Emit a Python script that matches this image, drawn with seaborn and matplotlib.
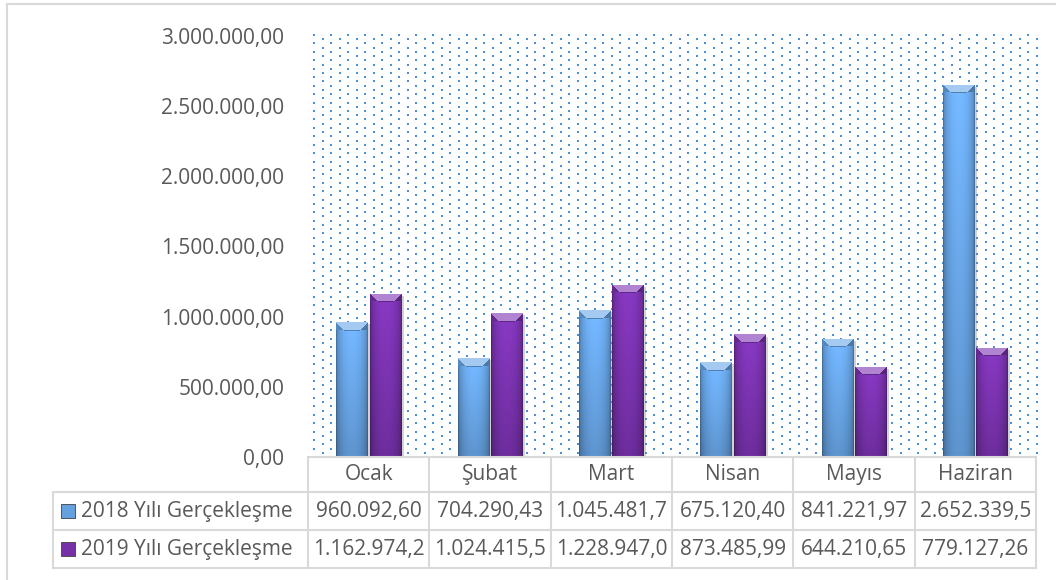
#!/usr/bin/env python3

import numpy as np
import pandas as pd
import seaborn as sns
import matplotlib.pyplot as plt
import matplotlib.patheffects as pe
from matplotlib.colors import to_rgb
from matplotlib.lines import Line2D
from matplotlib.patches import Rectangle
from matplotlib.transforms import blended_transform_factory

months = ["Ocak", "Şubat", "Mart", "Nisan", "Mayıs", "Haziran"]
series = ["2018 Yılı Gerçekleşme", "2019 Yılı Gerçekleşme"]
values_2018 = [960092.60, 704290.43, 1045481.70, 675120.40, 841221.97, 2652339.50]
values_2019 = [1162974.20, 1024415.50, 1228947.00, 873485.99, 644210.65, 779127.26]
yticks = [0, 500000, 1000000, 1500000, 2000000, 2500000, 3000000]

colors = ["#65a0df", "#7631a9"]
text_color = "#595959"
line_color = "#d9d9d9"

# figure size in pixels and plot area box (pixels from top-left)
W, H = 1056, 580
AX_L, AX_R, AX_T, AX_B = 308, 1036, 36, 457


def tr_fmt(v):
    """Turkish number format: 1.234.567,89"""
    s = f"{v:,.2f}"
    return s.replace(",", "#").replace(".", ",").replace("#", ".")


def cell_text(v):
    # excel cuts the long numbers to the column width
    return tr_fmt(v)[:11]


def shade_bar(ax, patch, base, px_per_unit):
    """
    Paint a bevelled gradient over a bar, clipped to the bar itself
    """
    x, y = patch.get_x(), patch.get_y()
    w, h = patch.get_width(), patch.get_height()
    rows = max(int(round(h * px_per_unit)), 2)
    cols = max(int(round(w * (AX_R - AX_L) / 6)), 4)
    t = np.linspace(0, 1, cols)
    horiz = 0.68 + 0.40 * np.sin(np.pi * t) ** 0.45
    vert = np.linspace(1.08, 0.86, rows)
    rgb = np.array(to_rgb(base))
    img = rgb[None, None, :] * horiz[None, :, None] * vert[:, None, None]
    bevel = min(8, rows)
    for r in range(bevel):
        img[r, r:cols - r] = rgb * 1.05 * 0.6 + 0.4
        img[r, :r] = rgb * 0.85
        img[r, cols - r:] = rgb * 0.75
    if rows > bevel:
        img[bevel, bevel:cols - bevel] = rgb * 0.8
    img = np.clip(img, 0, 1)
    im = ax.imshow(img, extent=(x, x + w, y, y + h), origin="upper",
                   aspect="auto", interpolation="nearest", zorder=4)
    im.set_clip_path(patch)


def main():
    sns.set_theme(style="white")
    plt.rcParams["font.family"] = ["Open Sans", "DejaVu Sans"]
    fs = 15

    df = pd.DataFrame({
        "Ay": months * 2,
        "Seri": [series[0]] * len(months) + [series[1]] * len(months),
        "Tutar": values_2018 + values_2019,
    })

    fig = plt.figure(figsize=(W / 100, H / 100), dpi=100)
    ax = fig.add_axes([AX_L / W, 1 - AX_B / H, (AX_R - AX_L) / W, (AX_B - AX_T) / H])

    sns.barplot(data=df, x="Ay", y="Tutar", hue="Seri", order=months,
                hue_order=series, palette=colors, saturation=1, width=0.55,
                gap=0.06, legend=False, ax=ax, zorder=3)

    ymax = yticks[-1]
    aw, ah = AX_R - AX_L, AX_B - AX_T
    px_per_unit = ah / ymax

    for i, patch in enumerate(ax.patches):
        base = colors[0] if i < len(months) else colors[1]
        patch.set_edgecolor("none")
        patch.set_path_effects([
            pe.SimplePatchShadow(offset=(2, -1.5), shadow_rgbFace="#808080", alpha=0.35),
            pe.Normal(),
        ])
        shade_bar(ax, patch, base, px_per_unit)

    ax.set_xlim(-0.5, len(months) - 0.5)
    ax.set_ylim(0, ymax)

    # dotted pattern fill of the plot area
    dx, dy = [], []
    for k, yy in enumerate(np.arange(-1, ah, 4.22)):
        x0 = 6 if k % 2 == 0 else 14.5
        xs = np.arange(x0, aw + 1, 17)
        dx.extend(xs / aw)
        dy.extend([1 - yy / ah] * len(xs))
    ax.scatter(dx, dy, transform=ax.transAxes, s=3.8, c="#d6e6f7", marker="s",
               lw=0, zorder=1, clip_on=False)
    ax.scatter(dx, dy, transform=ax.transAxes, s=1.9, c="#4a90d8", marker="s",
               lw=0, zorder=1.1, clip_on=False)

    for s in ax.spines.values():
        s.set_visible(False)
    ax.set_yticks(yticks)
    ax.set_yticklabels([tr_fmt(v) for v in yticks], fontsize=fs, color=text_color)
    ax.tick_params(axis="y", length=0, pad=17)
    ax.set_xticks([])
    ax.set_xlabel("")
    ax.set_ylabel("")

    # data table under the plot
    blend = blended_transform_factory(ax.transData, ax.transAxes)
    rows_px = [0, 35, 73, 111]
    ry = [-r / ah for r in rows_px]
    lab_left = (53 - AX_L) / aw
    lkw = dict(color=line_color, lw=1.5, clip_on=False, zorder=5)

    ax.add_line(Line2D([0, 1], [ry[0], ry[0]], transform=ax.transAxes, **lkw))
    for yv in ry[1:]:
        ax.add_line(Line2D([lab_left, 1], [yv, yv], transform=ax.transAxes, **lkw))
    ax.add_line(Line2D([lab_left, lab_left], [ry[1], ry[3]], transform=ax.transAxes, **lkw))
    for i in range(len(months) + 1):
        ax.add_line(Line2D([i - 0.5, i - 0.5], [ry[0], ry[3]], transform=blend, **lkw))

    centers = [(ry[j] + ry[j + 1]) / 2 for j in range(3)]
    for i, m in enumerate(months):
        ax.text(i, centers[0], m, transform=blend, ha="center", va="center",
                fontsize=fs, color=text_color)
        ax.text(i, centers[1], cell_text(values_2018[i]), transform=blend,
                ha="center", va="center", fontsize=fs, color=text_color)
        ax.text(i, centers[2], cell_text(values_2019[i]), transform=blend,
                ha="center", va="center", fontsize=fs, color=text_color)

    key_w, key_h = 14 / aw, 14 / ah
    for j, name in enumerate(series):
        cy = centers[j + 1]
        key = Rectangle(((61 - AX_L) / aw, cy - key_h / 2), key_w, key_h,
                        transform=ax.transAxes, facecolor=colors[j],
                        edgecolor="#404040", lw=0.6, clip_on=False, zorder=6)
        ax.add_patch(key)
        ax.text((81 - AX_L) / aw, cy, name, transform=ax.transAxes, ha="left",
                va="center", fontsize=fs, color=text_color)

    # chart frame (only top and left edge show)
    fig.add_artist(Line2D([7 / W, 1], [1 - 4 / H, 1 - 4 / H], color=line_color, lw=1.5))
    fig.add_artist(Line2D([7 / W, 7 / W], [0, 1 - 4 / H], color=line_color, lw=1.5))

    fig.savefig("out.png", dpi=100)
    plt.close(fig)


if __name__ == "__main__":
    main()
